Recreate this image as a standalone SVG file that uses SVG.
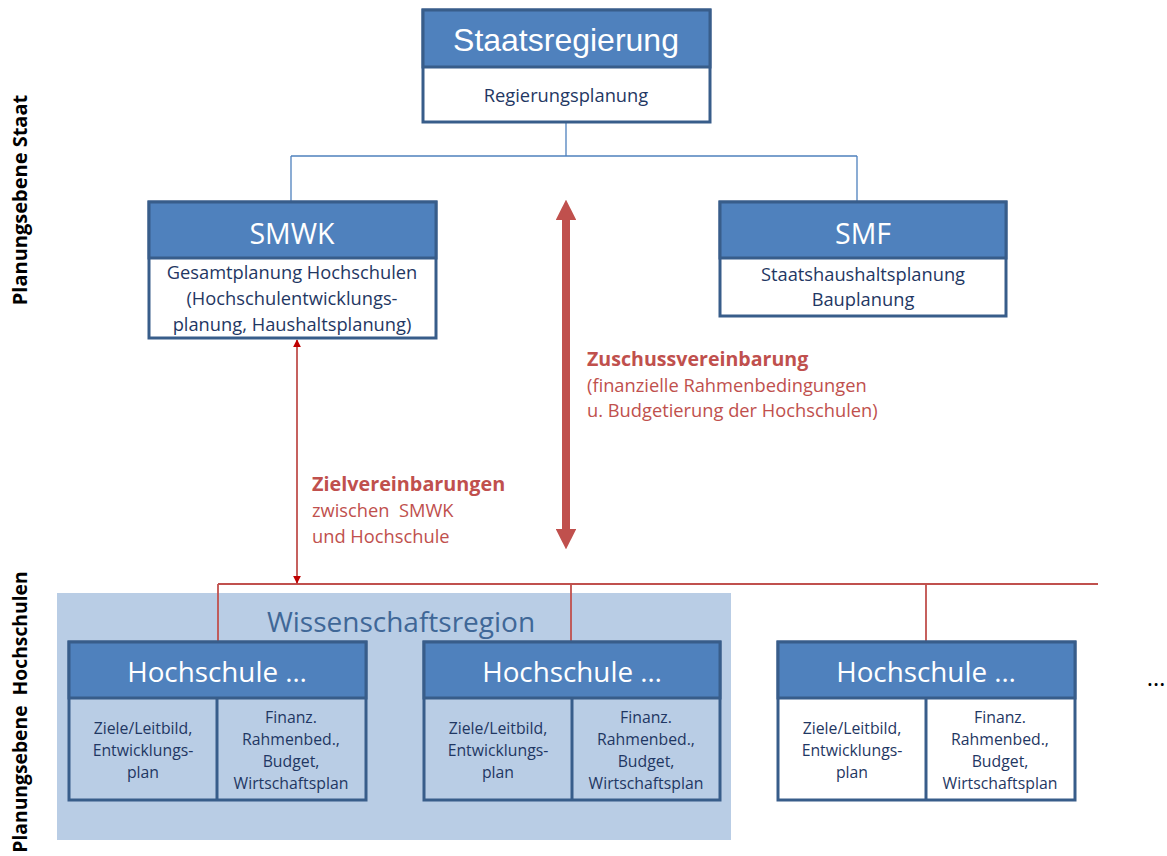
<svg xmlns="http://www.w3.org/2000/svg" width="1167" height="856" viewBox="0 0 1167 856">
<style>
.box{fill:#fff;stroke:#385d8a;stroke-width:3}
.hdr{fill:#4f81bd;stroke:#385d8a;stroke-width:3}
.ht{font-family:"Open Sans",sans-serif;fill:#fff;text-anchor:middle}
.bt{font-family:"Open Sans",sans-serif;fill:#1f3763;text-anchor:middle}
.rt{font-family:"Open Sans",sans-serif;fill:#c0504d}
.side{font-family:"Open Sans",sans-serif;font-weight:bold;fill:#000;text-anchor:middle}
</style>
<defs>
<marker id="ar" viewBox="0 0 10 10" refX="9" refY="5" markerWidth="8" markerHeight="8" markerUnits="userSpaceOnUse" orient="auto-start-reverse"><path d="M0,0L10,5L0,10z" fill="#c00000"/></marker>
<marker id="arb" viewBox="0 0 10 10" refX="5" refY="5" markerWidth="2.6" markerHeight="2.6" orient="auto-start-reverse"><path d="M0,0L10,5L0,10z" fill="#c0504d"/></marker>
</defs>
<rect x="57" y="593" width="674" height="247" fill="#b9cde5"/>
<text x="401" y="632" font-family="Open Sans,sans-serif" font-size="28" fill="#3f6797" text-anchor="middle">Wissenschaftsregion</text>
<text class="side" font-size="20" transform="translate(27,200) rotate(-90)">Planungsebene Staat</text>
<text class="side" font-size="19.3" transform="translate(27,712) rotate(-90)" xml:space="preserve">Planungsebene  Hochschulen</text>
<g id="connectors">
<path d="M566,122V156M291,156H857M291,156V201M857,156V201" fill="none" stroke="#4f81bd" stroke-width="1.3"/>
<path d="M218,584H1098M218,584V641M571,584V641M926,584V641" fill="none" stroke="#c0504d" stroke-width="1.8"/>
<line x1="297" y1="340" x2="297" y2="583" stroke="#c0504d" stroke-width="1.8" marker-start="url(#ar)" marker-end="url(#ar)"/>
<line x1="566" y1="210" x2="566" y2="539" stroke="#c0504d" stroke-width="8" marker-start="url(#arb)" marker-end="url(#arb)"/>
</g>
<g id="staatsregierung">
<rect class="box" x="423" y="10" width="287" height="112"/>
<rect class="hdr" x="423" y="10" width="287" height="57"/>
<text x="566" y="51" font-family="Liberation Sans,Arial,sans-serif" font-size="32" fill="#fff" text-anchor="middle">Staatsregierung</text>
<text class="bt" x="566" y="102" font-size="18.3">Regierungsplanung</text>
</g>
<g id="smwk">
<rect class="box" x="149" y="202" width="287" height="136"/>
<rect class="hdr" x="149" y="202" width="287" height="56"/>
<text class="ht" x="292" y="244" font-size="28.5">SMWK</text>
<text class="bt" font-size="18.3"><tspan x="292" y="279">Gesamtplanung Hochschulen</tspan><tspan x="292" y="305">(Hochschulentwicklungs-</tspan><tspan x="292" y="331">planung, Haushaltsplanung)</tspan></text>
</g>
<g id="smf">
<rect class="box" x="720" y="202" width="286" height="114"/>
<rect class="hdr" x="720" y="202" width="286" height="56"/>
<text class="ht" x="863" y="244" font-size="28.5">SMF</text>
<text class="bt" font-size="18.3"><tspan x="863" y="281">Staatshaushaltsplanung</tspan><tspan x="863" y="306">Bauplanung</tspan></text>
</g>
<g id="zuschuss">
<text class="rt" x="587" y="366" font-size="19.6" font-weight="bold">Zuschussvereinbarung</text>
<text class="rt" font-size="18.3"><tspan x="587" y="392">(finanzielle Rahmenbedingungen</tspan><tspan x="587" y="417">u. Budgetierung der Hochschulen)</tspan></text>
</g>
<g id="ziel">
<text class="rt" x="312" y="491" font-size="19.8" font-weight="bold">Zielvereinbarungen</text>
<text class="rt" font-size="18.3" xml:space="preserve"><tspan x="312" y="517">zwischen  SMWK</tspan><tspan x="312" y="543">und Hochschule</tspan></text>
</g>
<g id="hochschule1">
<rect x="69" y="642" width="297" height="158" fill="#b9cde5" stroke="#385d8a" stroke-width="3"/>
<rect class="hdr" x="69" y="642" width="297" height="56"/>
<line x1="217" y1="698" x2="217" y2="800" stroke="#385d8a" stroke-width="3"/>
<text class="ht" x="217" y="682" font-size="27.8">Hochschule …</text>
<text class="bt" font-size="15.8"><tspan x="143" y="734">Ziele/Leitbild,</tspan><tspan x="143" y="756">Entwicklungs-</tspan><tspan x="143" y="778">plan</tspan></text>
<text class="bt" font-size="15.8"><tspan x="291" y="723">Finanz.</tspan><tspan x="291" y="745">Rahmenbed.,</tspan><tspan x="291" y="767">Budget,</tspan><tspan x="291" y="789">Wirtschaftsplan</tspan></text>
</g>
<g id="hochschule2">
<rect x="424" y="642" width="296" height="158" fill="#b9cde5" stroke="#385d8a" stroke-width="3"/>
<rect class="hdr" x="424" y="642" width="296" height="56"/>
<line x1="572" y1="698" x2="572" y2="800" stroke="#385d8a" stroke-width="3"/>
<text class="ht" x="572" y="682" font-size="27.8">Hochschule …</text>
<text class="bt" font-size="15.8"><tspan x="498" y="734">Ziele/Leitbild,</tspan><tspan x="498" y="756">Entwicklungs-</tspan><tspan x="498" y="778">plan</tspan></text>
<text class="bt" font-size="15.8"><tspan x="646" y="723">Finanz.</tspan><tspan x="646" y="745">Rahmenbed.,</tspan><tspan x="646" y="767">Budget,</tspan><tspan x="646" y="789">Wirtschaftsplan</tspan></text>
</g>
<g id="hochschule3">
<rect class="box" x="778" y="642" width="297" height="158"/>
<rect class="hdr" x="778" y="642" width="297" height="56"/>
<line x1="926" y1="698" x2="926" y2="800" stroke="#385d8a" stroke-width="3"/>
<text class="ht" x="926" y="682" font-size="27.8">Hochschule …</text>
<text class="bt" font-size="15.8"><tspan x="852" y="734">Ziele/Leitbild,</tspan><tspan x="852" y="756">Entwicklungs-</tspan><tspan x="852" y="778">plan</tspan></text>
<text class="bt" font-size="15.8"><tspan x="1000" y="723">Finanz.</tspan><tspan x="1000" y="745">Rahmenbed.,</tspan><tspan x="1000" y="767">Budget,</tspan><tspan x="1000" y="789">Wirtschaftsplan</tspan></text>
</g>
<text x="1156" y="686" font-family="Open Sans,sans-serif" font-size="24" fill="#000" text-anchor="middle">…</text>
</svg>
